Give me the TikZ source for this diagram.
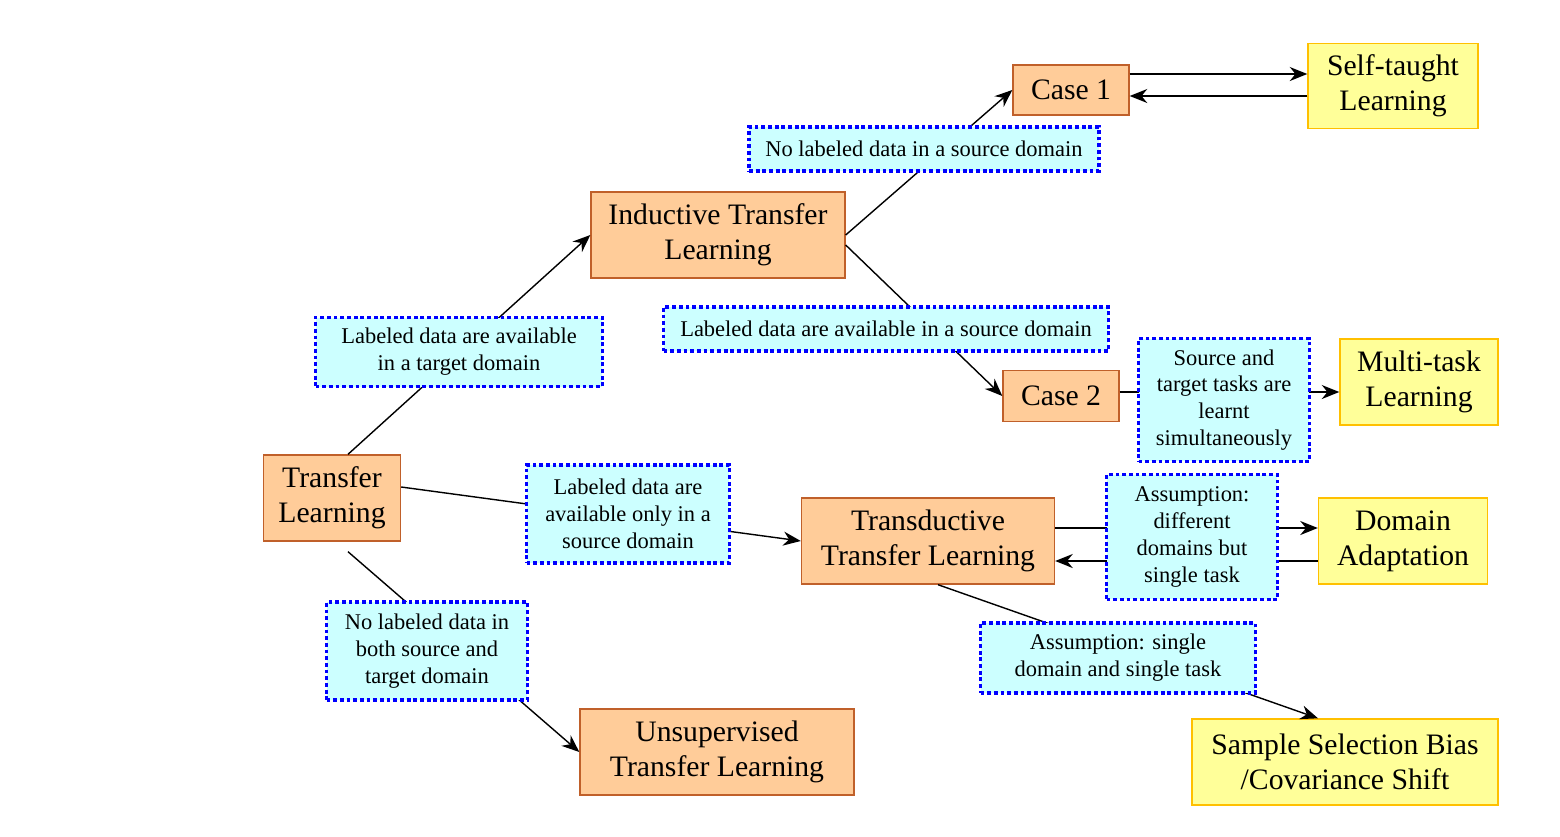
\documentclass[tikz,border=0pt]{standalone}
\usepackage{fontspec}
\setmainfont{Liberation Serif}
\usetikzlibrary{arrows.meta}
\definecolor{peach}{HTML}{FFCC99}
\definecolor{peachline}{HTML}{C0602A}
\definecolor{lemon}{HTML}{FFFF99}
\definecolor{lemonline}{HTML}{FFC000}
\definecolor{aqua}{HTML}{CCFFFF}
\begin{document}
\begin{tikzpicture}[x=0.02cm,y=-0.02cm,
	mainbox/.style={draw=peachline,fill=peach,line width=0.8pt,align=center,inner sep=0pt,font=\fontsize{16.9}{20}\selectfont},
	leafbox/.style={draw=lemonline,fill=lemon,line width=0.8pt,align=center,inner sep=0pt,font=\fontsize{16.9}{20}\selectfont},
	notebox/.style={draw=blue,fill=aqua,line width=2.2pt,dash pattern=on 2.2pt off 1.6pt,align=center,inner sep=0pt,font=\fontsize{12.8}{15.3}\selectfont},
	link/.style={draw=black,line width=0.8pt},
	tip/.style={-{Stealth[length=10pt,width=8pt]}}]
	\useasboundingbox (0,0) rectangle (1560,836);
	\node[mainbox,minimum width=2.74cm,minimum height=1.72cm] (tl) at (332,498) {Transfer\\Learning};
	\node[mainbox,minimum width=5.08cm,minimum height=1.72cm] (ind) at (718,235) {Inductive Transfer\\Learning};
	\node[mainbox,minimum width=5.06cm,minimum height=1.72cm] (trans) at (928,541) {Transductive\\Transfer Learning};
	\node[mainbox,minimum width=5.48cm,minimum height=1.72cm] (uns) at (717,752) {Unsupervised\\Transfer Learning};
	\node[mainbox,minimum width=2.32cm,minimum height=1.0cm] (case1) at (1071,90) {Case 1};
	\node[mainbox,minimum width=2.32cm,minimum height=1.02cm] (case2) at (1061,396) {Case 2};
	\node[leafbox,minimum width=3.4cm,minimum height=1.7cm] (self) at (1393,86) {Self-taught\\Learning};
	\node[leafbox,minimum width=3.16cm,minimum height=1.72cm] (multi) at (1419,382) {Multi-task\\Learning};
	\node[leafbox,minimum width=3.38cm,minimum height=1.72cm] (da) at (1403,541) {Domain\\Adaptation};
	\node[leafbox,minimum width=6.12cm,minimum height=1.72cm] (ssb) at (1345,762) {Sample Selection Bias\\/Covariance Shift};
	\draw[link,tip] ([xshift=0.32cm]tl.north) -- (ind.west);
	\draw[link,tip] ([yshift=0.22cm]tl.east) -- (trans.west);
	\draw[link,tip] ([xshift=0.32cm,yshift=-0.2cm]tl.south) -- (uns.west);
	\draw[link,tip] (ind.east) -- (case1.west);
	\draw[link,tip] ([yshift=-0.2cm]ind.east) -- (case2.west);
	\draw[link,tip] ([yshift=0.32cm]case1.east) -- ([yshift=0.32cm]case1.east -| self.west);
	\draw[link,tip] ([yshift=-0.12cm]case1.east -| self.west) -- ([yshift=-0.12cm]case1.east);
	\draw[link,tip] ([yshift=0.08cm]case2.east) -- ([yshift=0.08cm]case2.east -| multi.west);
	\draw[link,tip] ([yshift=0.26cm]trans.east) -- ([yshift=0.26cm]trans.east -| da.west);
	\draw[link,tip] ([yshift=-0.4cm]trans.east -| da.west) -- ([yshift=-0.4cm]trans.east);
	\draw[link,tip] ([xshift=0.2cm]trans.south) -- ([xshift=-0.54cm]ssb.north);
	\node[notebox,minimum width=5.74cm,minimum height=1.38cm] (ntarget) at (459,352) {Labeled data are available\\in a target domain};
	\node[notebox,minimum width=4.06cm,minimum height=1.96cm] (nonly) at (628,514) {Labeled data are\\available only in a\\source domain};
	\node[notebox,minimum width=4.02cm,minimum height=1.96cm] (nnone) at (427,651) {No labeled data in\\both source and\\target domain};
	\node[notebox,minimum width=7.0cm,minimum height=0.88cm] (nnosource) at (924,149) {No labeled data in a source domain};
	\node[notebox,minimum width=8.9cm,minimum height=0.88cm] (nsource) at (886,329) {Labeled data are available in a source domain};
	\node[notebox,minimum width=3.42cm,minimum height=2.46cm] (nsimul) at (1224,400) {Source and\\target tasks are\\learnt\\simultaneously};
	\node[notebox,minimum width=3.42cm,minimum height=2.5cm] (ndiff) at (1192,537) {Assumption:\\different\\domains but\\single task};
	\node[notebox,minimum width=5.5cm,minimum height=1.4cm] (nsingle) at (1118,658) {Assumption: single\\domain and single task};
\end{tikzpicture}
\end{document}
